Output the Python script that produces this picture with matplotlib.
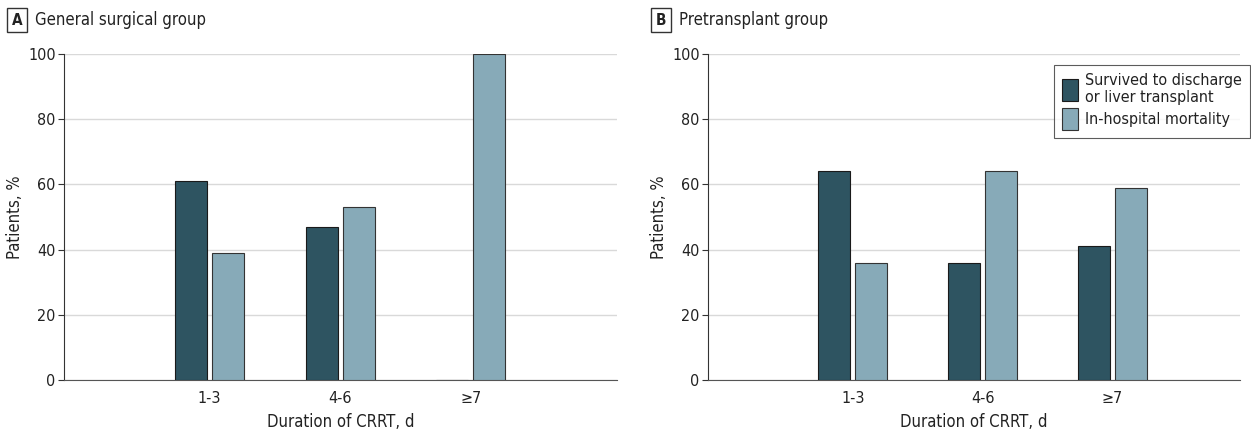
import matplotlib
matplotlib.use("Agg")
from matplotlib import pyplot as plt
import numpy as np

plt.rcParams['font.family'] = ['DejaVu Sans', 'Liberation Sans']
plt.rcParams['font.stretch'] = 'condensed'
plt.rcParams['text.color'] = '#222222'
plt.rcParams['axes.labelcolor'] = '#222222'
plt.rcParams['xtick.labelcolor'] = '#222222'
plt.rcParams['ytick.labelcolor'] = '#222222'

# categories and values
categories = ['1-3', '4-6', '≥7']
surv_a = [61, 47, 0]
mort_a = [39, 53, 100]
surv_b = [64, 36, 41]
mort_b = [36, 64, 59]

dark = '#2e5461'
light = '#87aab8'

fig = plt.figure(figsize=(12.51, 4.32), dpi=100)

ax_a = fig.add_axes([0.0512, 0.1204, 0.442, 0.7546])
ax_b = fig.add_axes([0.566, 0.1204, 0.425, 0.7546])


def draw_panel(ax, surv, mort, xmax):
    x = np.arange(len(categories))
    w = 0.245
    off = 0.143
    ax.bar(x - off, surv, width=w, color=dark, edgecolor='#1a1a1a', linewidth=0.8, zorder=3,
           label='Survived to discharge\nor liver transplant')
    ax.bar(x + off, mort, width=w, color=light, edgecolor='#333333', linewidth=0.8, zorder=3,
           label='In-hospital mortality')
    ax.set_ylim(0, 100)
    ax.set_xlim(-1.115, xmax)
    ax.set_yticks([0, 20, 40, 60, 80, 100])
    ax.set_xticks(x)
    ax.set_xticklabels(categories)
    ax.yaxis.grid(True, color='#d9d9d9', linewidth=1, zorder=0)
    ax.set_axisbelow(True)
    for s in ['top', 'right']:
        ax.spines[s].set_visible(False)
    ax.spines['left'].set_color('#333333')
    ax.spines['bottom'].set_color('#555555')
    ax.tick_params(axis='x', length=0, labelsize=11.5, pad=8)
    ax.tick_params(axis='y', length=4, color='#333333', labelsize=11.5, pad=2)
    ax.set_xlabel('Duration of CRRT, d', fontsize=12, labelpad=5)
    ax.set_ylabel('Patients, %', fontsize=12, labelpad=3)


draw_panel(ax_a, surv_a, mort_a, 3.12)
draw_panel(ax_b, surv_b, mort_b, 2.98)

# panel labels
box = dict(boxstyle='square,pad=0.3', facecolor='white', edgecolor='#333333', linewidth=1)
fig.text(0.0135, 0.953, 'A', fontsize=11, fontweight='bold', ha='center', va='center', bbox=box)
fig.text(0.028, 0.953, 'General surgical group', fontsize=12, ha='left', va='center')
fig.text(0.5285, 0.953, 'B', fontsize=11, fontweight='bold', ha='center', va='center', bbox=box)
fig.text(0.543, 0.953, 'Pretransplant group', fontsize=12, ha='left', va='center')

leg = ax_b.legend(loc='upper right', bbox_to_anchor=(0.999, 0.85), bbox_transform=fig.transFigure,
                  fontsize=11.5, frameon=True, fancybox=False, edgecolor='#333333',
                  handlelength=1.05, handleheight=1.7, handletextpad=0.4, labelspacing=0.2,
                  borderpad=0.5, borderaxespad=0)
leg.get_frame().set_linewidth(0.8)

plt.savefig('out.png', dpi=100)
